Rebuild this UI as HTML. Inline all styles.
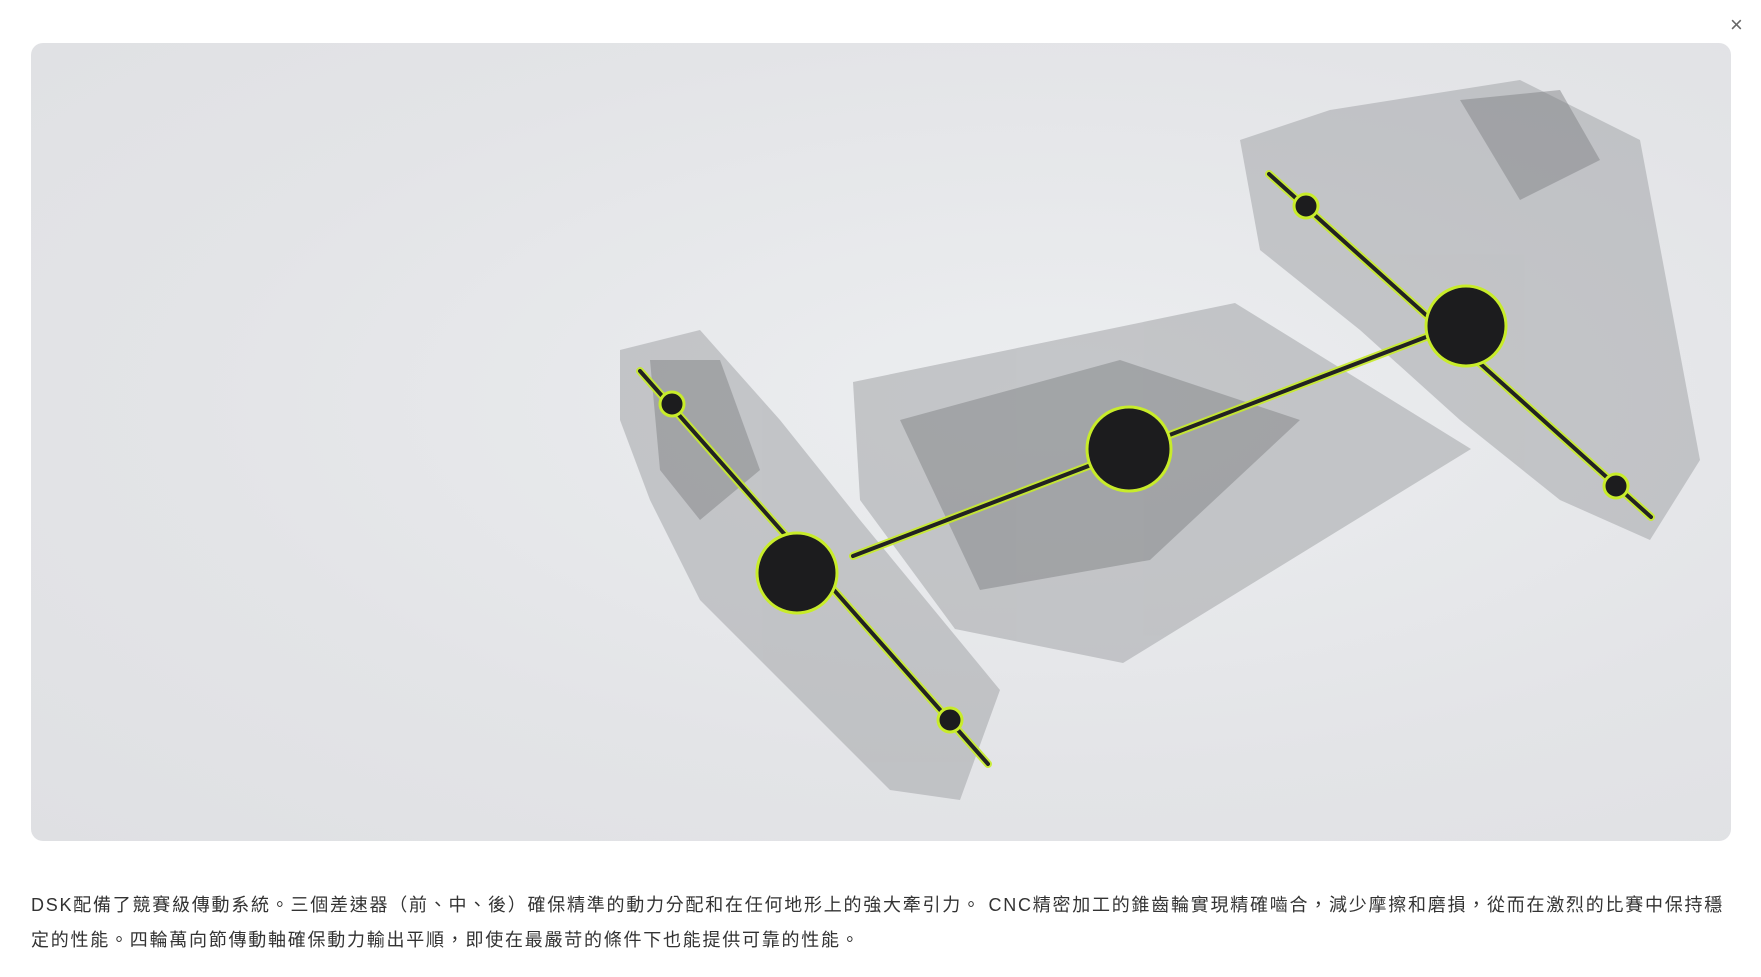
<!DOCTYPE html>
<html><head><meta charset="utf-8"><style>
html,body{margin:0;padding:0;background:#fff;width:1761px;height:977px;overflow:hidden}
.panel{position:absolute;left:31px;top:43px;width:1700px;height:798px;border-radius:12px;background:radial-gradient(ellipse at 60% 45%,#eceef0 0%,#e3e4e7 60%,#dfe0e3 100%);overflow:hidden}
.txt{position:absolute;left:31px;top:888px;width:1705px;font-family:"Liberation Sans","Noto Sans CJK TC",sans-serif;font-size:18px;letter-spacing:1.75px;line-height:35px;color:#333}
.x{position:absolute;left:1730px;top:12px;font:22px "Liberation Sans",sans-serif;color:#666}
</style></head><body>
<div class="x">×</div>
<div class="panel">
<svg width="1700" height="798" viewBox="31 43 1700 798" style="position:absolute;left:0;top:0">
<g fill="#a4a6a9" opacity="0.55">
<polygon points="853,382 1235,303 1471,449 1123,663 955,629 860,500"/>
<polygon points="620,350 700,330 780,420 860,520 1000,690 960,800 890,790 800,700 700,600 650,500 620,420"/>
<polygon points="1240,140 1330,110 1520,80 1640,140 1700,460 1650,540 1560,500 1460,420 1360,330 1260,250"/>
</g>
<g fill="#7a7c7f" opacity="0.45">
<polygon points="900,420 1120,360 1300,420 1150,560 980,590"/>
<polygon points="1460,100 1560,90 1600,160 1520,200"/>
<polygon points="650,360 720,360 760,470 700,520 660,470"/>
</g>
<g stroke="#c8ec2a" stroke-width="8" stroke-linecap="round" fill="none" opacity="0.9">
<line x1="640" y1="371" x2="988" y2="764"/>
<line x1="1269" y1="174" x2="1651" y2="517"/>
<line x1="853" y1="556" x2="1426" y2="337"/>
</g>
<g stroke="#222" stroke-width="4" stroke-linecap="round" fill="none">
<line x1="640" y1="371" x2="988" y2="764"/>
<line x1="1269" y1="174" x2="1651" y2="517"/>
<line x1="853" y1="556" x2="1426" y2="337"/>
</g>
<g fill="#1c1c1e" stroke="#c8ec2a" stroke-width="3">
<circle cx="797" cy="573" r="40"/>
<circle cx="1129" cy="449" r="42"/>
<circle cx="1466" cy="326" r="40"/>
<circle cx="672" cy="404" r="12"/><circle cx="950" cy="720" r="12"/>
<circle cx="1306" cy="206" r="12"/><circle cx="1616" cy="486" r="12"/>
</g>
</svg>
</div>
<div class="txt">DSK配備了競賽級傳動系統。三個差速器（前、中、後）確保精準的動力分配和在任何地形上的強大牽引力。 CNC精密加工的錐齒輪實現精確嚙合，減少摩擦和磨損，從而在激烈的比賽中保持穩<br>定的性能。四輪萬向節傳動軸確保動力輸出平順，即使在最嚴苛的條件下也能提供可靠的性能。</div>
</body></html>
